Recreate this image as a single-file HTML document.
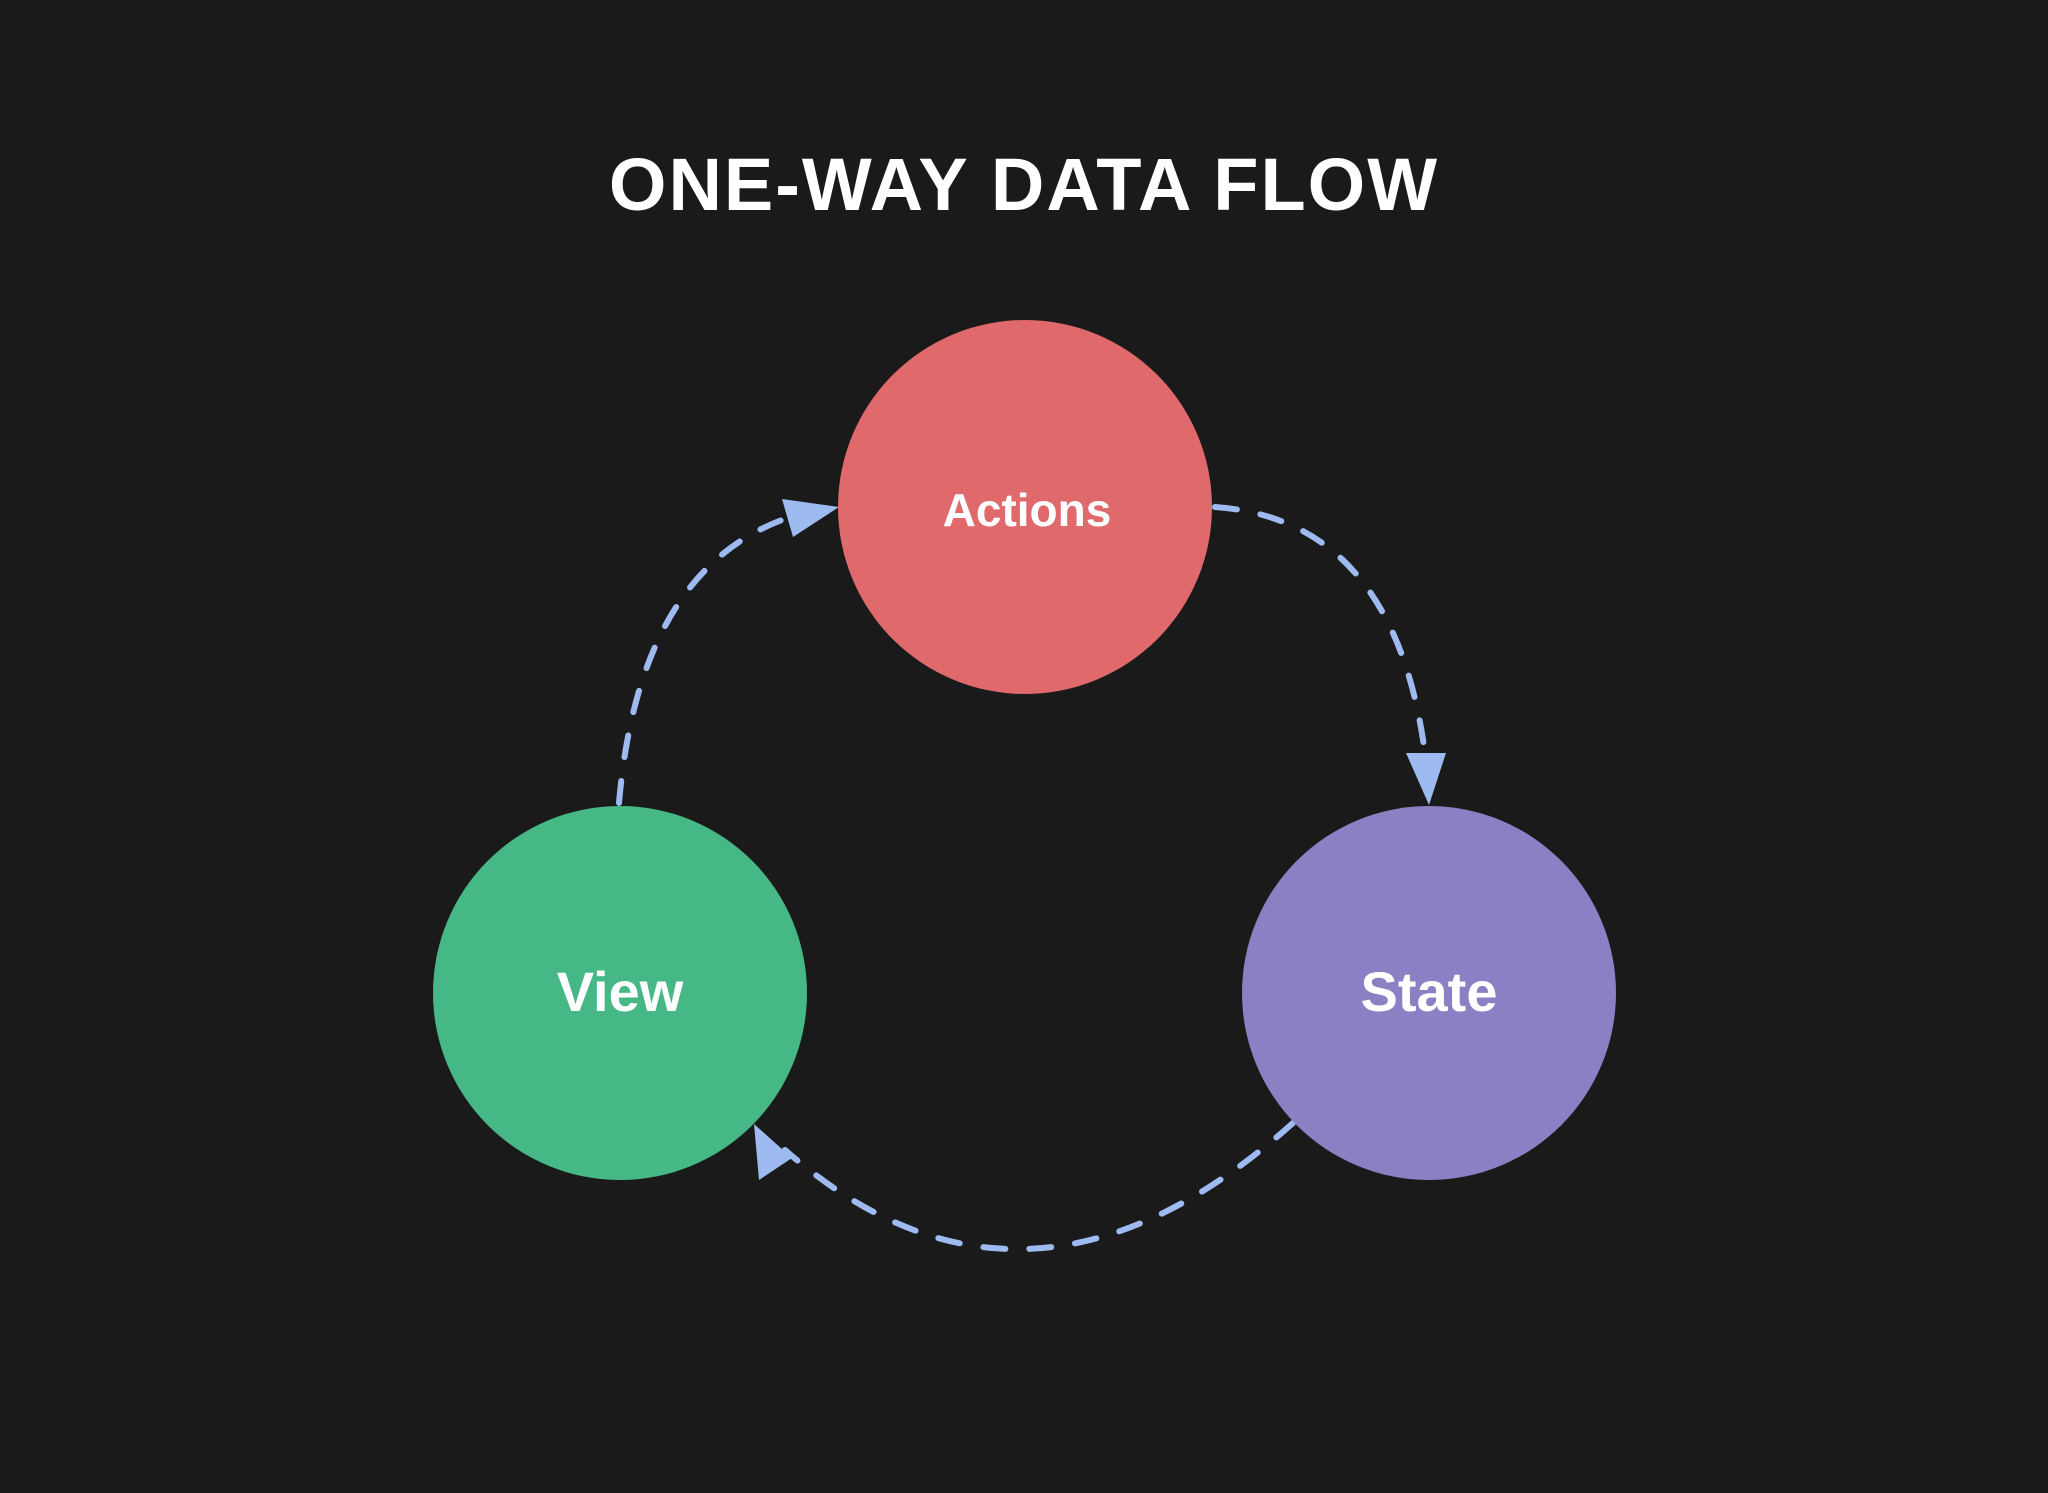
<!DOCTYPE html>
<html><head><meta charset="utf-8"><style>
html,body{margin:0;padding:0;background:#1a1a1a;}
svg{display:block}
</style></head><body>
<svg width="2048" height="1493" viewBox="0 0 2048 1493" xmlns="http://www.w3.org/2000/svg">
<rect width="2048" height="1493" fill="#1a1a1a"/>
<text x="1024" y="210" text-anchor="middle" font-family="Liberation Sans, sans-serif" font-weight="bold" font-size="74" fill="#ffffff" letter-spacing="2">ONE-WAY DATA FLOW</text>

<g fill="none" stroke="#9dbbf0" stroke-width="6" stroke-dasharray="22 24" stroke-linecap="round">
<path d="M1215 507 Q1400 520 1427 770"/>
<path d="M1293 1123 Q1026 1361 785 1150"/>
<path d="M619 803 Q640 560 800 514"/>
</g>
<g fill="#9dbbf0">
<polygon points="1406,753 1446,753 1429,805"/>
<polygon points="754,1124 792,1158 759,1180"/>
<polygon points="839,507 782,499 793,537"/>
</g>

<circle cx="1025" cy="507" r="187" fill="#e06a6b"/>
<circle cx="620" cy="993" r="187" fill="#46b886"/>
<circle cx="1429" cy="993" r="187" fill="#8d7fc3"/>

<g font-family="Liberation Sans, sans-serif" font-weight="bold" fill="#ffffff" text-anchor="middle">
<text x="1027" y="526" font-size="46">Actions</text>
<text x="620" y="1011" font-size="56">View</text>
<text x="1429" y="1011" font-size="56">State</text>
</g>
</svg>
</body></html>
